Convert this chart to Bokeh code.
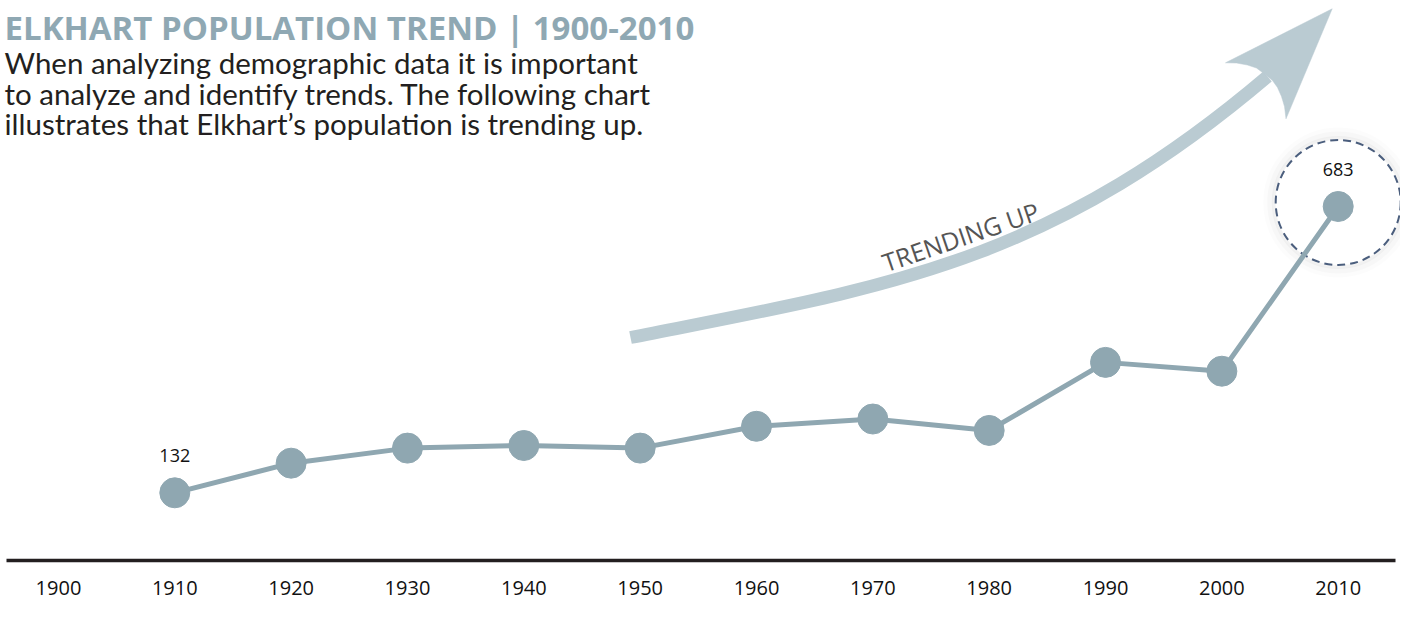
from bokeh.plotting import figure
from bokeh.models import Range1d
from bokeh.core.properties import value
from bokeh.embed import file_html
from bokeh.resources import INLINE

# ---- data ----
years = [1910, 1920, 1930, 1940, 1950, 1960, 1970, 1980, 1990, 2000, 2010]
population = [132, 189, 218, 223, 218, 260, 274, 252, 383, 366, 683]
tick_years = [1900, 1910, 1920, 1930, 1940, 1950, 1960, 1970, 1980, 1990, 2000, 2010]
tick_labels = [str(y) for y in tick_years]
highlight_idx = [0, len(years) - 1]

title_text = "ELKHART POPULATION TREND | 1900-2010"
subtitle_lines = [
    "When analyzing demographic data it is important",
    "to analyze and identify trends. The following chart",
    "illustrates that Elkhart\u2019s population is trending up.",
]
trend_text = "TRENDING UP"

# ---- layout (canvas pixel helpers for decorations) ----
W, H = 1400, 602
X0, X1 = 1895.018, 2015.355
Y0, Y1 = -79.12, 1079.46


def dx(px):
    return X0 + px / W * (X1 - X0)


def dy(py):
    return Y1 - py / H * (Y1 - Y0)


PT = "#8fa7b1"
ARROW = "#bacbd2"

p = figure(width=W, height=H, x_range=Range1d(X0, X1), y_range=Range1d(Y0, Y1),
           output_backend="svg", toolbar_location=None,
           x_axis_location=None, y_axis_location=None,
           min_border=0, min_border_left=0, min_border_right=0,
           min_border_top=0, min_border_bottom=0)
p.grid.visible = False
p.outline_line_color = None
p.background_fill_color = "white"
p.border_fill_color = "white"

# title and subtitle
p.text(x=[dx(4)], y=[dy(27)], text=[title_text], text_font=value("Open Sans"),
       text_font_style="bold", text_font_size="33px", text_color="#8fa8b3",
       text_align="left", text_baseline="alphabetic")
for i, line in enumerate(subtitle_lines):
    p.text(x=[dx(4)], y=[dy(62 + i * 30.5)], text=[line], text_font=value("Lato"),
           text_font_size="29.5px", text_color="#231f20",
           text_align="left", text_baseline="alphabetic")

# trend arrow
p.bezier(x0=[dx(630)], y0=[dy(337)], x1=[dx(1267)], y1=[dy(76)],
         cx0=[dx(880)], cy0=[dy(287)], cx1=[dx(1042)], cy1=[dy(267)],
         line_width=13, line_color=ARROW, line_cap="butt")
head_px = [1331.7, 1225, 1236, 1247, 1256, 1262, 1267, 1272, 1277, 1281, 1284, 1285.5]
head_py = [8.3, 62.3, 62.5, 64.5, 67.5, 72, 76, 80, 87, 96, 106, 118.3]
p.patch(x=[dx(v) for v in head_px], y=[dy(v) for v in head_py],
        fill_color=ARROW, line_color=ARROW, line_width=0.5)
p.text(x=[dx(960)], y=[dy(236)], text=[trend_text], text_font=value("Open Sans"),
       text_font_size="25px", text_color="#555555", angle=0.33,
       text_align="center", text_baseline="middle")

# axis line and year labels
p.segment(x0=[dx(6)], y0=[dy(560)], x1=[dx(1395)], y1=[dy(560)],
          line_width=3.5, line_color="#231f20")
p.text(x=tick_years, y=[dy(587)] * len(tick_years), text=tick_labels,
       text_font=value("Open Sans"), text_font_size="20px", text_color="#111111",
       text_align="center", text_baseline="middle")

# highlight circle around last point (soft shadow + dashed ring)
m = H / (Y1 - Y0)
cy = population[-1] + 4 / m
for sz, lw, a in [(140, 10, 0.012), (134, 8, 0.02), (129, 4, 0.03)]:
    p.scatter(x=[years[-1]], y=[cy], size=sz, marker="circle", fill_color=None,
              line_color="#000000", line_alpha=a, line_width=lw)
p.scatter(x=[years[-1]], y=[cy], size=125, marker="circle", fill_color=None,
          line_color="#4b5e7d", line_width=2, line_dash="8 5")

# data line and points
p.line(years, population, line_width=5, line_color=PT)
p.scatter(years, population, size=30, marker="circle", fill_color=PT, line_color=PT)

# value labels
p.text(x=[years[i] for i in highlight_idx], y=[population[i] for i in highlight_idx],
       text=[str(population[i]) for i in highlight_idx], y_offset=-37,
       text_font=value("Open Sans"), text_font_size="18px", text_color="#111111",
       text_align="center", text_baseline="middle")

open("out.html", "w").write(file_html(p, INLINE))
